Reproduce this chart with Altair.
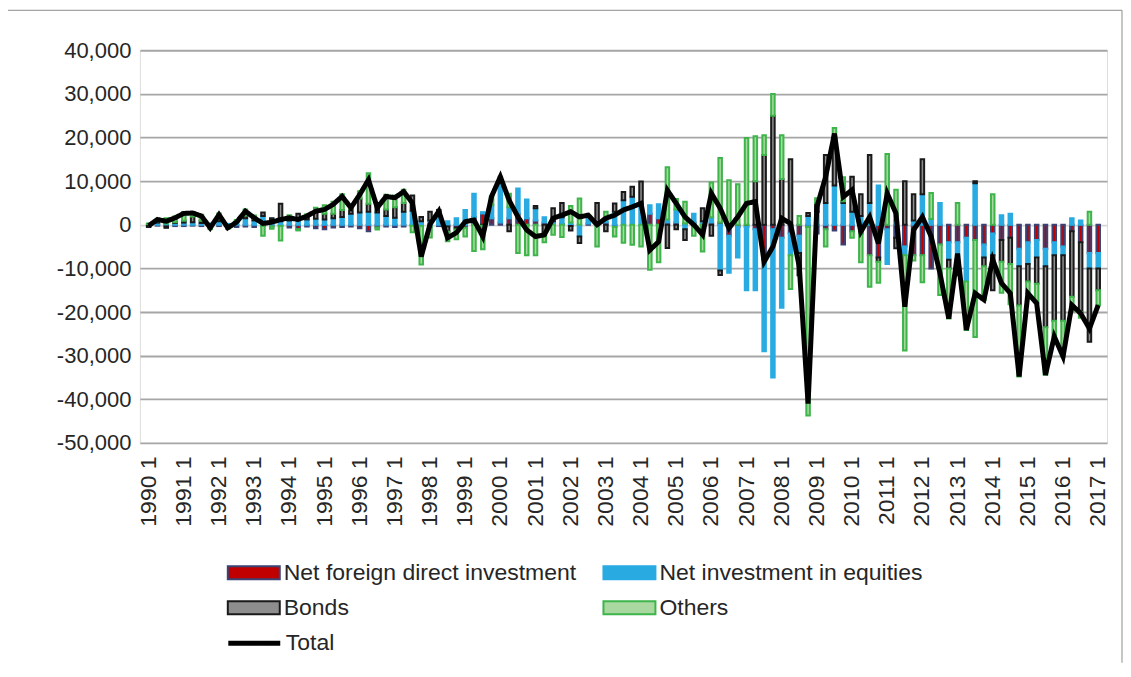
import altair as alt
import pandas as pd

quarters = [f"{y} {q}" for y in range(1990, 2017) for q in (1, 2, 3, 4)] + ["2017 1"]
q1_labels = [q for q in quarters if q.endswith(" 1")]

fdi = [-300, -200, -400, -300, -300, -200, -300, -400, -300, -300, -500, -400,
       -500, -300, -400, -300, -600, -1000, -400, -800, -1000, -600, -500, -400,
       -800, -1500, -600, -400, -500, -400, -200, -300, -500, -300, -400, -600,
       -700, 1800, 2600, 1500, 500, 1500, 2500, 1500, 1000, 500, 300, 200,
       -300, 0, 300, 300, 500, -500, 0, 0, 0, 2500, 1500, 500,
       500, 300, 500, 300, 500, 500, -2500, -500, -500, -1000, -8000, -1000,
       -3000, -2000, -2500, -500, -2000, -1000, -1300, -4500, -1500, -2000, -7000, -7500,
       -1000, -3000, -5000, -7000, -7000, -10000, -4500, -4000, -4000, -3000, -3500, -4500,
       -2000, -3500, -3000, -5500, -4000, -3500, -5500, -4000, -5000, -1500, -4000, -6500,
       -6500]
equities = [200, 500, 300, 400, 500, 600, 400, 300, 800, 200, 700, 1500,
            1000, 2000, 1200, 800, 1000, 1300, 1200, 1400, 1200, 1500, 1800, 2500,
            2800, 3000, 2800, 2000, 1600, 3000, 3200, 800, 1000, 3000, 800, 1500,
            3400, 5300, 300, 3000, 10000, 2500, 5800, 4300, 2800, 1200, 500, 1500,
            500, -2700, 1500, 200, 1000, 3000, 5600, 6400, 4900, 2000, 3200, 700,
            3000, -1000, 2000, 500, 1200, -10500, -8500, -7000, -14500, -14000, -21000, -34000,
            -16000, -5000, -4000, 2000, 3000, 5000, 9000, 5000, 3000, 2000, 5000, 9000,
            -8000, 1000, -2000, 1000, 7000, 1300, 5000, -4000, -6500, -10000, 9500, -3000,
            -5000, 2200, 2500, -4000, -5000, -4000, -4000, -3000, -2000, 1500, 1000, -3500,
            -3500]
bonds = [-200, 300, -300, 200, 400, 1300, 500, -200, 600, -100, 200, 600,
         400, 800, 300, 4000, 600, 1200, 800, 1500, 1300, 1000, 1600, 1200,
         3200, 1800, 2200, 1500, 2400, 2000, 3500, 1000, 2000, 400, -1200, -500,
         0, 0, -200, 0, 0, -1500, 0, 0, 500, -2700, 3000, 3300,
         -1000, -1500, 0, 4500, -1500, 1900, 1900, 2300, 5000, 0, 0, -5300,
         -1000, -2500, 0, 3000, -2500, -1000, 0, 0, 0, 10000, 16000, 25000,
         10500, 15000, -5100, 700, 2000, 11000, 11000, 400, 8000, 5000, 11000, -1000,
         0, -2400, 10000, 6000, 8000, 0, 0, -2000, -1100, 0, 500, -2000,
         -8000, -5000, -6000, -9000, -4000, -6000, -14000, -15000, -15000, -15000, -16000, -16800,
         -5000]
others = [100, 600, 1200, 1300, 2000, 1000, 1400, -400, 1200, -500, 200, 1400,
          700, -2200, -500, -3300, 600, -300, 400, 1000, 2000, 2800, 3600, 600,
          1700, 7000, -500, 3400, 2700, 3000, -1500, -8800, -2400, 0, -2200, -2200,
          -2000, -6000, -5400, 2000, 500, 3100, -6500, -7000, -7000, -1300, -2300, -2800,
          3800, 6000, 400, -5000, 1500, -2200, -4100, -4600, -5000, -10300, -8600, 12000,
          2400, 5000, -2500, -6100, 8000, 14800, 10200, 9300, 19900, 10300, 4500, 5000,
          10000, -7700, 2000, -43200, 1100, -4000, 2200, 5500, -1500, -6600, -7200, -4800,
          16200, 7000, -21800, -1200, -6200, 6000, -11600, -11500, 5000, -11100, -22200, -7700,
          7000, -7100, -9200, -16300, -2700, -4500, -10900, -3600, -8200, -3400, -1300, 3000,
          -3400]
total = [-200, 1200, 800, 1600, 2600, 2700, 2000, -700, 2300, -700, 600, 3100,
         1600, 300, 600, 1200, 1600, 1200, 2000, 3100, 3500, 4700, 6500, 3900,
         6900, 10300, 3900, 6500, 6200, 7600, 5000, -7300, 100, 3100, -3000, -1800,
         700, 1100, -2700, 6500, 11000, 5600, 1800, -1200, -2700, -2300, 1500, 2200,
         3000, 1800, 2200, 0, 1500, 2200, 3400, 4100, 4900, -5800, -3900, 7900,
         4900, 1800, 0, -2300, 7200, 3800, -800, 1800, 4900, 5300, -8500, -5000,
         1500, 300, -9600, -41000, 4100, 11000, 20900, 6400, 8000, -1600, 1800, -4300,
         7200, 2600, -18800, -1200, 1800, -2700, -11100, -21500, -6600, -24100, -15700, -17200,
         -8000, -13400, -15700, -34800, -15700, -18000, -34400, -25600, -30200, -18400, -20300, -23800,
         -18400]

series_names = ["Net foreign direct investment", "Net investment in equities", "Bonds", "Others"]
fill_colors = ["#C00000", "#29ABE2", "#8E8E8E", "#A9D8A0"]
stroke_colors = ["#3B4374", "#29ABE2", "#1A1A1A", "#3DB54A"]

rows = []
for k, (name, vals) in enumerate(zip(series_names, [fdi, equities, bonds, others])):
    for q, v in zip(quarters, vals):
        rows.append({"quarter": q, "series": name, "value": v, "order": k})
bars_df = pd.DataFrame(rows)
line_df = pd.DataFrame({"quarter": quarters, "value": total, "line": ["Total"] * len(quarters)})

FONT = "Liberation Sans"
TXT = "#262626"

x_enc = alt.X(
    "quarter:N", sort=quarters,
    scale=alt.Scale(paddingInner=0.6, paddingOuter=0.8),
    axis=alt.Axis(values=q1_labels, labelAngle=-90, ticks=False, domain=False, grid=False,
                  labelFont=FONT, labelFontSize=23, labelColor=TXT, labelPadding=13,
                  labelOverlap=False, title=None),
)
y_scale = alt.Scale(domain=[-50000, 40000], nice=False)
y_axis = alt.Axis(values=list(range(-50000, 40001, 10000)),
                  labelExpr="replace(format(datum.value, ','), '\u2212', '-')",
                  labelFont=FONT, labelFontSize=22, labelColor=TXT, labelPadding=9,
                  domain=False, ticks=False, title=None,
                  gridColor=alt.condition("datum.value == 0", alt.value("#D6D6D6"), alt.value("#A6A6A6")),
                  gridWidth=1.8)

bar_legend = alt.Legend(orient="none", legendX=100, legendY=509, columns=2, direction="horizontal",
                        title=None,
                        symbolType="M-2,-0.5H2V0.5H-2Z", symbolSize=676, symbolStrokeWidth=2,
                        labelFont=FONT, labelFontSize=23, labelColor=TXT, labelLimit=500,
                        labelOffset=16, columnPadding=23, rowPadding=9)

bars = alt.Chart(bars_df).transform_filter("datum.value != 0").mark_bar(strokeWidth=2).encode(
    x=x_enc,
    y=alt.Y("value:Q", stack="zero", scale=y_scale, axis=y_axis),
    fill=alt.Fill("series:N", scale=alt.Scale(domain=series_names, range=fill_colors), legend=bar_legend),
    stroke=alt.Stroke("series:N", scale=alt.Scale(domain=series_names, range=stroke_colors), legend=bar_legend),
    order=alt.Order("order:Q"),
)

line = alt.Chart(line_df).mark_line(color="black", strokeWidth=5).encode(
    x=x_enc,
    y=alt.Y("value:Q", scale=y_scale),
    strokeDash=alt.StrokeDash("line:N", scale=alt.Scale(domain=["Total"], range=[[1, 0]]),
                              legend=alt.Legend(orient="none", legendX=86, legendY=565, title=None,
                                                symbolType="stroke", symbolSize=2704,
                                                symbolStrokeWidth=5, symbolStrokeColor="black",
                                                labelFont=FONT, labelFontSize=23, labelColor=TXT,
                                                labelOffset=3)),
)

frame_df = pd.DataFrame({"edge": ["top"]})
frame_top = alt.Chart(frame_df).mark_rule(color="#8C8C8C", strokeWidth=1).encode(
    x=alt.value(-132), x2=alt.value(983), y=alt.value(-40))
frame_right = alt.Chart(frame_df).mark_rule(color="#8C8C8C", strokeWidth=1).encode(
    x=alt.value(983), y=alt.value(-40), y2=alt.value(613))

chart = alt.layer(bars, line, frame_top, frame_right).properties(
    width=968, height=393,
    autosize=alt.AutoSizeParams(type="none"),
    padding={"left": 132, "top": 42, "right": 16, "bottom": 220},
).configure_view(stroke=None).configure(background="white")

chart.save("out.html", embed_options={"renderer": "svg", "actions": False})
